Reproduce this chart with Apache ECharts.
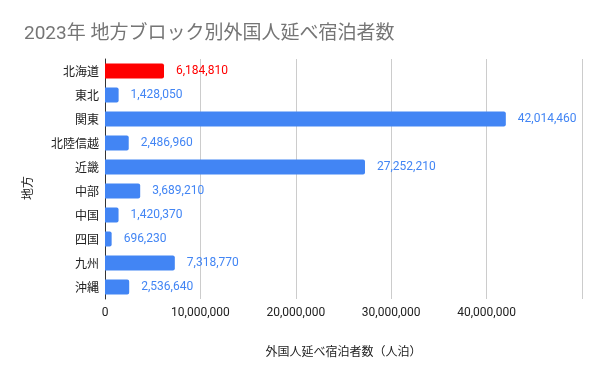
<!DOCTYPE html>
<html>
<head>
<meta charset="utf-8">
<script src="https://cdn.jsdelivr.net/npm/echarts@6/dist/echarts.min.js"></script>
<style>
html,body{margin:0;padding:0;background:#fff;}
#chart{width:600px;height:371px;}
</style>
</head>
<body>
<div id="chart"></div>
<script>
const titleText = '2023年 地方ブロック別外国人延べ宿泊者数';
const categories = ['北海道','東北','関東','北陸信越','近畿','中部','中国','四国','九州','沖縄'];
const values = [6184810, 1428050, 42014460, 2486960, 27252210, 3689210, 1420370, 696230, 7318770, 2536640];
const highlightIndex = 0;
const xAxisTitle = '外国人延べ宿泊者数（人泊）';
const yAxisTitle = '地方';

const fmt = v => Number(v).toLocaleString('en-US');
const chart = echarts.init(document.getElementById('chart'), null, {renderer:'canvas'});
const latin = 'Roboto, "Noto Sans CJK JP", sans-serif';
const cjk = '"Noto Sans CJK JP", Roboto, sans-serif';

chart.setOption({
  animation:false,
  backgroundColor:'#fff',
  title:{
    text:titleText,
    left:19, top:20,
    textStyle:{fontFamily:latin, fontSize:19, fontWeight:'normal', color:'#757575'}
  },
  grid:{left:105, right:18, top:59, bottom:72, containLabel:false},
  xAxis:{
    type:'value', min:0, max:50000000, interval:10000000,
    axisLine:{show:false}, axisTick:{show:false},
    splitLine:{lineStyle:{color:'#cccccc', width:1}},
    axisLabel:{
      showMaxLabel:false, margin:8,
      fontFamily:latin, fontSize:12, color:'#222',
      formatter:v => fmt(v)
    },
    name:xAxisTitle, nameLocation:'middle', nameGap:46,
    nameTextStyle:{fontFamily:cjk, fontSize:12, color:'#222'}
  },
  yAxis:{
    type:'category', data:categories, inverse:true,
    axisLine:{show:true, lineStyle:{color:'#333', width:1}},
    axisTick:{show:false},
    axisLabel:{margin:6, fontFamily:cjk, fontSize:12, color:'#222'}
  },
  graphic:[{
    type:'text', x:27, y:188, rotation:Math.PI/2,
    style:{text:yAxisTitle, fontFamily:cjk, fontSize:12, fill:'#222', align:'center', verticalAlign:'middle'}
  }],
  series:[{
    type:'bar',
    barWidth:15,
    data:values.map((v,i)=>({
      value:v,
      itemStyle:{color: i===highlightIndex ? '#ff0000' : '#4285f4', borderRadius:[0,2,2,0]},
      label:{color: i===highlightIndex ? '#ff0000' : '#4285f4'}
    })),
    label:{
      show:true, position:'right', distance:12,
      fontFamily:latin, fontSize:12,
      formatter:p => fmt(p.value)
    }
  }]
});
</script>
</body>
</html>
